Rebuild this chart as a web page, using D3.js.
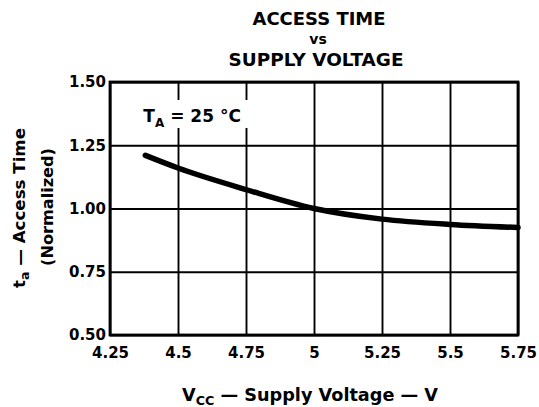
<!DOCTYPE html>
<html>
<head>
<meta charset="utf-8">
<script src="https://cdn.jsdelivr.net/npm/d3@7"></script>
<style>
	body { margin: 0; background: #fff; }
	svg { display: block; }
</style>
</head>
<body>
<svg width="539" height="407" font-family="DejaVu Sans, sans-serif" font-weight="bold"></svg>
<script>
// values
var voltage = [4.38, 4.5, 4.75, 5.0, 5.25, 5.5, 5.75];
var accessTime = [1.21, 1.16, 1.075, 1.0, 0.958, 0.937, 0.925];
var xTicks = [4.25, 4.5, 4.75, 5, 5.25, 5.5, 5.75];
var xTickLabels = ["4.25", "4.5", "4.75", "5", "5.25", "5.5", "5.75"];
var yTicks = [0.5, 0.75, 1.0, 1.25, 1.5];
var yTickLabels = ["0.50", "0.75", "1.00", "1.25", "1.50"];

var svg = d3.select("svg"),
	margin = {top: 82, right: 21, bottom: 72, left: 110},
	width = +svg.attr("width") - margin.left - margin.right,
	height = +svg.attr("height") - margin.top - margin.bottom,
	g = svg.append("g").attr("transform", "translate(" + margin.left + "," + margin.top + ")");

var x = d3.scaleLinear().domain([4.25, 5.75]).range([0, width]);
var y = d3.scaleLinear().domain([0.5, 1.5]).range([height, 0]);

function styleAxis(sel) {
	sel.attr("font-size", 15)
		.attr("font-family", "DejaVu Sans, sans-serif")
		.attr("font-weight", "bold");
	sel.select(".domain").remove();
	sel.selectAll("line").attr("stroke", "#000").attr("stroke-width", 1.9);
	sel.selectAll("text").attr("fill", "#000");
}

// grid + tick labels
g.append("g")
	.attr("transform", "translate(0," + height + ")")
	.call(d3.axisBottom(x)
		.tickValues(xTicks)
		.tickFormat(function (d, i) { return xTickLabels[i]; })
		.tickSizeInner(-height)
		.tickSizeOuter(0)
		.tickPadding(12))
	.call(styleAxis);

g.append("g")
	.call(d3.axisLeft(y)
		.tickValues(yTicks)
		.tickFormat(function (d, i) { return yTickLabels[i]; })
		.tickSizeInner(-width)
		.tickSizeOuter(0)
		.tickPadding(4))
	.call(styleAxis);

// frame
g.append("rect")
	.attr("width", width)
	.attr("height", height)
	.attr("fill", "none")
	.attr("stroke", "#000")
	.attr("stroke-width", 2.8);

// annotation with white box behind
var note = g.append("g").attr("transform", "translate(" + (x(4.38) - 2) + "," + (y(1.5) + 40) + ")");
note.append("rect")
	.attr("x", -6).attr("y", -22)
	.attr("width", 112).attr("height", 28)
	.attr("fill", "#fff");
var noteText = note.append("text").attr("font-size", 17);
noteText.append("tspan").text("T");
noteText.append("tspan").attr("font-size", 12).attr("dy", 5).text("A");
noteText.append("tspan").attr("dy", -5).text(" = 25 °C");

// curve
var line = d3.line()
	.x(function (d, i) { return x(voltage[i]); })
	.y(function (d) { return y(d); })
	.curve(d3.curveMonotoneX);

g.append("path")
	.datum(accessTime)
	.attr("fill", "none")
	.attr("stroke", "#000")
	.attr("stroke-width", 5.5)
	.attr("stroke-linecap", "round")
	.attr("d", line);

// title
var title = svg.append("g")
	.attr("text-anchor", "middle")
	.attr("font-size", 18);
title.append("text").attr("x", 319).attr("y", 25)
	.attr("textLength", 133).attr("lengthAdjust", "spacingAndGlyphs").text("ACCESS TIME");
title.append("text").attr("x", 318).attr("y", 44).attr("font-size", 14).text("vs");
title.append("text").attr("x", 316).attr("y", 66)
	.attr("textLength", 175).attr("lengthAdjust", "spacingAndGlyphs").text("SUPPLY VOLTAGE");

// x axis title
var xt = svg.append("text")
	.attr("x", 310)
	.attr("y", 401)
	.attr("text-anchor", "middle")
	.attr("font-size", 18)
	.attr("textLength", 256)
	.attr("lengthAdjust", "spacingAndGlyphs");
xt.append("tspan").text("V");
xt.append("tspan").attr("font-size", 13).attr("dy", 4).text("CC");
xt.append("tspan").attr("dy", -4).text(" — Supply Voltage — V");

// y axis title
var yt = svg.append("text")
	.attr("transform", "translate(25,208) rotate(-90)")
	.attr("text-anchor", "middle")
	.attr("font-size", 16)
	.attr("textLength", 160)
	.attr("lengthAdjust", "spacingAndGlyphs");
yt.append("tspan").text("t");
yt.append("tspan").attr("font-size", 12).attr("dy", 4).text("a");
yt.append("tspan").attr("dy", -4).text(" — Access Time");

svg.append("text")
	.attr("transform", "translate(53,207) rotate(-90)")
	.attr("text-anchor", "middle")
	.attr("font-size", 15)
	.attr("textLength", 118)
	.attr("lengthAdjust", "spacingAndGlyphs")
	.text("(Normalized)");
</script>
</body>
</html>
